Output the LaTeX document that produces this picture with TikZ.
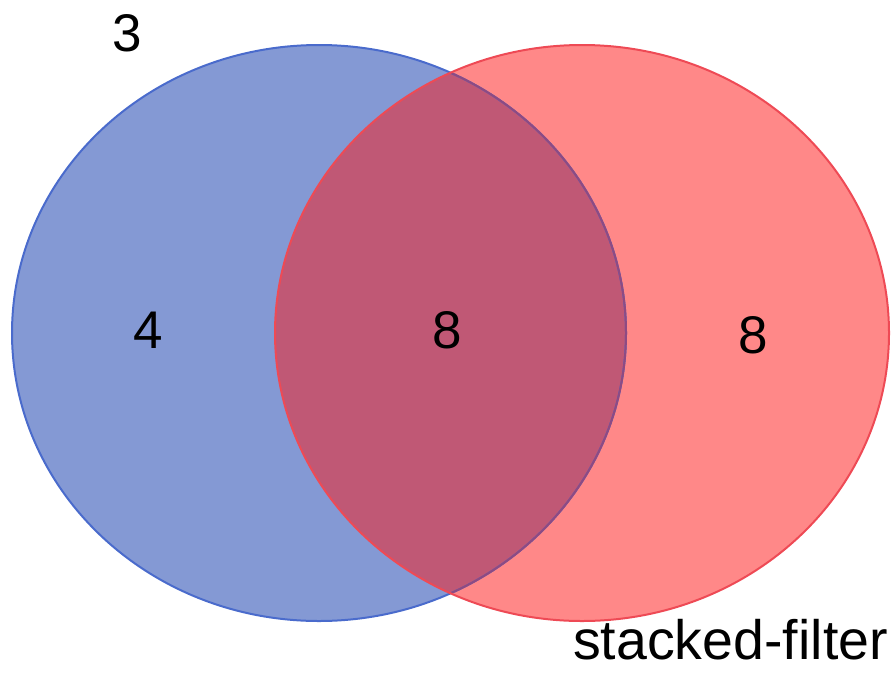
\documentclass[tikz,border=0pt]{standalone}
\usepackage{fontspec}
\setmainfont{Liberation Sans}
\definecolor{bluefill}{HTML}{8499D4}
\definecolor{blueedge}{HTML}{4A6BCC}
\definecolor{redfill}{HTML}{FF8888}
\definecolor{rededge}{HTML}{EE4A55}
\definecolor{bothfill}{HTML}{C05875}
\definecolor{bothedge}{HTML}{8E4A82}
\begin{document}
\begin{tikzpicture}[x=1pt,y=-1pt,
  lbl/.style={font=\fontsize{53}{60}\selectfont, inner sep=0pt, text=black},
  edge/.style={line width=2pt}]
\useasboundingbox (0,0) rectangle (893,675);
\def\blueE{(319,333) ellipse [x radius=307, y radius=288]}
\def\redE{(582,333) ellipse [x radius=307, y radius=288]}
\fill[bluefill] \blueE;
\fill[redfill] \redE;
\begin{scope}
  \clip \blueE;
  \fill[bothfill] \redE;
\end{scope}
\draw[edge, blueedge] \blueE;
\begin{scope}
  \clip \redE;
  \draw[edge, bothedge] \blueE;
\end{scope}
\draw[edge, rededge] \redE;
\node[lbl] (n3) at (127,33) {3};
\node[lbl] (nA) at (148,330) {4};
\node[lbl] (nAB) at (447,330) {8};
\node[lbl] (nB) at (753,335) {8};
\node[lbl, anchor=base east, font=\fontsize{55.5}{60}\selectfont] (lblB) at (888,659) {stacked-filter};
\end{tikzpicture}
\end{document}
